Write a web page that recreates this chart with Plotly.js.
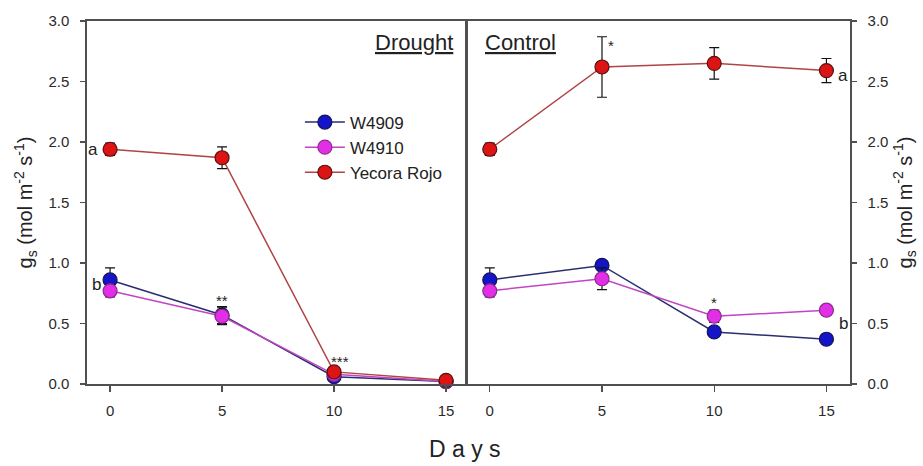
<!DOCTYPE html>
<html>
<head>
<meta charset="utf-8">
<script src="https://cdn.plot.ly/plotly-3.0.1.min.js"></script>
<style>html,body{margin:0;padding:0;background:#fff;}#chart{width:923px;height:466px;}</style>
</head>
<body>
<div id="chart"></div>
<script>
// ---- data ----
var days = [0, 5, 10, 15];
var seriesNames = ['W4909', 'W4910', 'Yecora Rojo'];
var xTickVals = [0, 5, 10, 15];
var yTickVals = [0, 0.5, 1.0, 1.5, 2.0, 2.5, 3.0];
var yTickText = ['0.0', '0.5', '1.0', '1.5', '2.0', '2.5', '3.0'];

var droughtW4909 = [0.86, 0.57, 0.06, 0.02];
var droughtW4909Err = [0.10, 0.07, 0.02, 0.01];
var droughtW4910 = [0.77, 0.56, 0.08, 0.02];
var droughtW4910Err = [0.05, 0.07, 0.02, 0.01];
var droughtYecora = [1.94, 1.87, 0.10, 0.03];
var droughtYecoraErr = [0.05, 0.09, 0.03, 0.01];

var controlW4909 = [0.86, 0.98, 0.43, 0.37];
var controlW4909Err = [0.10, 0.03, 0.03, 0.02];
var controlW4910 = [0.77, 0.87, 0.56, 0.61];
var controlW4910Err = [0.05, 0.09, 0.05, 0.02];
var controlYecora = [1.94, 2.62, 2.65, 2.59];
var controlYecoraErr = [0.05, 0.25, 0.13, 0.10];

// ---- styles ----
var styles = [
  {marker: '#1414c8', outline: '#14145a', line: '#2a2e6e'},
  {marker: '#e22ee6', outline: '#8a2a8e', line: '#c244c4'},
  {marker: '#dc1414', outline: '#5a1010', line: '#b04444'}
];

function mk(name, y, err, idx, xa, ya, show) {
  var s = styles[idx];
  return {
    type: 'scatter', mode: 'lines+markers', name: name,
    x: days, y: y, xaxis: xa, yaxis: ya,
    legendgroup: 'g' + idx, showlegend: show,
    line: {color: s.line, width: 1.5},
    marker: {color: s.marker, size: 14, line: {color: s.outline, width: 1.2}},
    error_y: {type: 'data', array: err, visible: true, color: '#111', thickness: 1.2, width: 5},
    cliponaxis: false
  };
}

var data = [
  mk(seriesNames[0], droughtW4909, droughtW4909Err, 0, 'x', 'y', true),
  mk(seriesNames[1], droughtW4910, droughtW4910Err, 1, 'x', 'y', true),
  mk(seriesNames[2], droughtYecora, droughtYecoraErr, 2, 'x', 'y', true),
  mk(seriesNames[0], controlW4909, controlW4909Err, 0, 'x2', 'y2', false),
  mk(seriesNames[1], controlW4910, controlW4910Err, 1, 'x2', 'y2', false),
  mk(seriesNames[2], controlYecora, controlYecoraErr, 2, 'x2', 'y2', false)
];

var tickFont = {family: 'Arial, Liberation Sans, sans-serif', size: 15, color: '#2a2a2a'};
var axLine = '#505050';
var yTitle = 'g<sub>s</sub> (mol m<sup>-2</sup> s<sup>-1</sup>)';

function xax(domain, range, anchor) {
  return {
    domain: domain, range: range, anchor: anchor,
    tickvals: xTickVals, ticks: 'outside', ticklen: 6, tickwidth: 1.2, tickcolor: axLine,
    showline: true, linecolor: axLine, linewidth: 1.6, mirror: true,
    showgrid: false, zeroline: false, tickfont: tickFont, ticklabelstandoff: 6
  };
}
function yax(anchor, side) {
  return {
    anchor: anchor, side: side, range: [0, 3.0],
    tickvals: yTickVals, ticktext: yTickText,
    ticks: 'outside', ticklen: 5, tickwidth: 1.2, tickcolor: axLine,
    showline: true, linecolor: axLine, linewidth: 1.6, mirror: true,
    showgrid: false, zeroline: false, tickfont: tickFont, ticklabelstandoff: 8,
    title: {text: yTitle, font: {family: 'Arial, Liberation Sans, sans-serif', size: 20, color: '#222'}, standoff: 10}
  };
}

var annFont = {family: 'Arial, Liberation Sans, sans-serif', size: 17, color: '#222'};
var starFont = {family: 'Arial, Liberation Sans, sans-serif', size: 15, color: '#222'};

var layout = {
  width: 923, height: 466,
  margin: {l: 87, r: 73, t: 21, b: 82},
  paper_bgcolor: '#fff', plot_bgcolor: '#fff',
  showlegend: true,
  legend: {
    x: 0.279, y: 0.77, xanchor: 'left', yanchor: 'top',
    bgcolor: 'rgba(0,0,0,0)', borderwidth: 0,
    font: {family: 'Arial, Liberation Sans, sans-serif', size: 17, color: '#222'},
    itemwidth: 40, tracegroupgap: 0, traceorder: 'grouped'
  },
  xaxis: xax([0, 0.497], [-1.03, 15.9], 'y'),
  xaxis2: xax([0.497, 1], [-1.05, 16.05], 'y2'),
  yaxis: yax('x', 'left'),
  yaxis2: yax('x2', 'right'),
  annotations: [
    {xref: 'x', yref: 'y', x: 15.4, y: 2.82, text: '<u>Drought</u>', showarrow: false, xanchor: 'right',
     font: {family: 'Arial, Liberation Sans, sans-serif', size: 22, color: '#222'}},
    {xref: 'x2', yref: 'y2', x: -0.3, y: 2.82, text: '<u>Control</u>', showarrow: false, xanchor: 'left',
     font: {family: 'Arial, Liberation Sans, sans-serif', size: 22, color: '#222'}},
    {xref: 'x', yref: 'y', x: 0, y: 1.94, xshift: -17, text: 'a', showarrow: false, font: annFont},
    {xref: 'x', yref: 'y', x: 0, y: 0.82, xshift: -14, text: 'b', showarrow: false, font: annFont},
    {xref: 'x2', yref: 'y2', x: 15, y: 2.55, xshift: 17, text: 'a', showarrow: false, font: annFont},
    {xref: 'x2', yref: 'y2', x: 15, y: 0.50, xshift: 17, text: 'b', showarrow: false, font: annFont},
    {xref: 'x', yref: 'y', x: 5, y: 0.64, yshift: 6, text: '**', showarrow: false, font: starFont},
    {xref: 'x', yref: 'y', x: 10, y: 0.14, yshift: 6, xshift: 6, text: '***', showarrow: false, font: starFont},
    {xref: 'x2', yref: 'y2', x: 5, y: 2.80, xshift: 9, text: '*', showarrow: false, font: starFont},
    {xref: 'x2', yref: 'y2', x: 10, y: 0.62, yshift: 6, text: '*', showarrow: false, font: starFont},
    {xref: 'paper', yref: 'paper', x: 0.4954, y: -0.179, yanchor: 'middle', text: 'D a y s', showarrow: false,
     font: {family: 'Arial, Liberation Sans, sans-serif', size: 23, color: '#222'}}
  ]
};

Plotly.newPlot('chart', data, layout, {displayModeBar: false, staticPlot: true});
</script>
</body>
</html>
